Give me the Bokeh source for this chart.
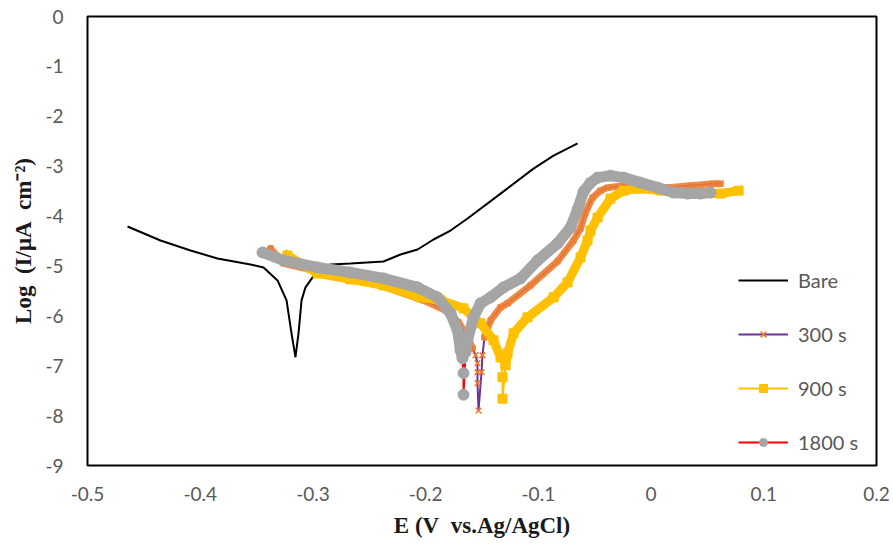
from bokeh.plotting import figure
from bokeh.models import Range1d, FixedTicker, Legend, LegendItem
from bokeh.embed import file_html
from bokeh.resources import INLINE

# ---------------- data ----------------
x_ticks = [-0.5, -0.4, -0.3, -0.2, -0.1, 0.0, 0.1, 0.2]
x_tick_labels = ["-0.5", "-0.4", "-0.3", "-0.2", "-0.1", "0", "0.1", "0.2"]
y_ticks = [0, -1, -2, -3, -4, -5, -6, -7, -8, -9]
y_tick_labels = ["0", "-1", "-2", "-3", "-4", "-5", "-6", "-7", "-8", "-9"]

bare_E = [-0.4645, -0.4352, -0.4086, -0.3847, -0.3554, -0.3438, -0.3314, -0.3234,
          -0.3190, -0.3155, -0.3128, -0.3101, -0.3066, -0.3003, -0.2933, -0.2844,
          -0.2666, -0.2374, -0.2223, -0.2072, -0.1930, -0.1779, -0.1628, -0.1335,
          -0.1043, -0.0865, -0.0652]
bare_L = [-4.21, -4.49, -4.69, -4.85, -4.97, -5.03, -5.29, -5.69,
          -6.35, -6.83, -6.35, -5.69, -5.43, -5.23, -5.05, -4.97,
          -4.95, -4.91, -4.77, -4.67, -4.47, -4.29, -4.05, -3.55,
          -3.05, -2.79, -2.545]

s300_E = [-0.3376, -0.3261, -0.2959, -0.2667, -0.2374, -0.2019, -0.1824, -0.1708,
          -0.1637, -0.1584,
          -0.1557, -0.1540, -0.1540, -0.1540, -0.1531, -0.1504, -0.1496,
          -0.1478, -0.1424, -0.1336, -0.1273, -0.1070, -0.0830, -0.0688, -0.0626,
          -0.0582, -0.0519, -0.0448, -0.0386, -0.0244, -0.0094, 0.0146, 0.0350,
          0.0554, 0.0616]
s300_L = [-4.65, -4.95, -5.11, -5.25, -5.41, -5.69, -5.89, -6.13,
          -6.39, -6.65,
          -6.79, -6.95, -7.13, -7.35, -7.90, -7.13, -6.79,
          -6.43, -6.09, -5.83, -5.75, -5.39, -4.91, -4.49, -4.25,
          -3.93, -3.63, -3.49, -3.43, -3.39, -3.43, -3.43, -3.39,
          -3.35, -3.35]
s300_tip = (10, 17)

s900_E = [-0.3226, -0.2959, -0.2667, -0.2374, -0.2046, -0.1868, -0.1664, -0.1513,
          -0.1398, -0.1336,
          -0.1318, -0.1318,
          -0.1291, -0.1273, -0.1220, -0.1096, -0.0865, -0.0741, -0.0626, -0.0564,
          -0.0537, -0.0475, -0.0360, -0.0244, -0.0094, 0.0084, 0.0261, 0.0439,
          0.0616, 0.0776]
s900_L = [-4.79, -5.15, -5.27, -5.39, -5.63, -5.69, -5.85, -6.15,
          -6.49, -6.83,
          -7.23, -7.66,
          -6.99, -6.75, -6.35, -6.03, -5.63, -5.33, -4.83, -4.49,
          -4.29, -4.03, -3.65, -3.49, -3.45, -3.49, -3.53, -3.55,
          -3.55, -3.49]
s900_tip = (10, 12)

s1800_E = [-0.3447, -0.3261, -0.2959, -0.2667, -0.2374, -0.2072, -0.1895, -0.1779,
           -0.1717, -0.1691, -0.1673,
           -0.1664, -0.1664,
           -0.1646, -0.1629, -0.1575, -0.1513, -0.1424, -0.1309, -0.1158, -0.1007,
           -0.0830, -0.0715, -0.0652, -0.0599, -0.0537, -0.0475, -0.0360, -0.0244,
           -0.0094, 0.0057, 0.0199, 0.0323, 0.0439, 0.0527]
s1800_L = [-4.73, -4.89, -5.03, -5.13, -5.25, -5.43, -5.63, -5.95,
           -6.29, -6.69, -6.85,
           -7.15, -7.58,
           -6.73, -6.49, -6.03, -5.75, -5.63, -5.43, -5.25, -4.89,
           -4.55, -4.23, -3.87, -3.51, -3.33, -3.23, -3.19, -3.23,
           -3.33, -3.43, -3.53, -3.55, -3.55, -3.53]
s1800_tip = (11, 13)

# ---------------- figure ----------------
p = figure(width=892, height=544, x_range=Range1d(-0.5, 0.2), y_range=Range1d(-9, 0),
           output_backend="svg", toolbar_location=None,
           min_border_left=87, min_border_right=16, min_border_top=16, min_border_bottom=79)
p.outline_line_color = "black"
p.outline_line_width = 2
p.xgrid.visible = False
p.ygrid.visible = False
p.background_fill_color = "white"
p.border_fill_color = "white"

for ax in (p.xaxis[0], p.yaxis[0]):
    ax.axis_line_color = None
    ax.major_tick_line_color = None
    ax.minor_tick_line_color = None
    ax.major_tick_out = 0
    ax.major_tick_in = 0
    ax.major_label_text_color = "#595959"
    ax.major_label_text_font = "Lato"
    ax.major_label_text_font_size = "19px"
    ax.axis_label_text_font = "Liberation Serif"
    ax.axis_label_text_font_style = "bold"
    ax.axis_label_text_font_size = "23px"
    ax.axis_label_text_color = "#1a1a1a"

p.xaxis.ticker = FixedTicker(ticks=x_ticks)
p.xaxis.major_label_overrides = {t: s for t, s in zip(x_ticks, x_tick_labels)}
p.yaxis.ticker = FixedTicker(ticks=y_ticks)
p.yaxis.major_label_overrides = {t: s for t, s in zip(y_ticks, y_tick_labels)}
p.xaxis.major_label_standoff = 21
p.yaxis.major_label_standoff = 24
p.xaxis.axis_label = "E (V\u00a0 vs.Ag/AgCl)"
p.yaxis.axis_label = "Log\u00a0\u00a0(I/\u03bcA\u00a0\u00a0cm\u207b\u00b2)"
p.xaxis.axis_label_standoff = 9
p.yaxis.axis_label_standoff = 6

# Bare
r_bare = p.line(bare_E, bare_L, line_color="black", line_width=2)


def band_segments(E, L, tip):
    a, b = tip
    return [E[:a], E[b:]], [L[:a], L[b:]]


# 300 s
l300 = p.line(s300_E, s300_L, line_color="#7030A0", line_width=2)
bx, by = band_segments(s300_E, s300_L, s300_tip)
p.multi_line(bx, by, line_color="#ED7D31", line_width=7, line_alpha=0.9,
             line_join="round", line_cap="round")
m300 = p.scatter(s300_E, s300_L, marker="x", size=8, line_color="#ED7D31", line_width=1.6)

# 900 s
l900 = p.line(s900_E, s900_L, line_color="#FFC000", line_width=2)
bx, by = band_segments(s900_E, s900_L, s900_tip)
p.multi_line(bx, by, line_color="#FFC000", line_width=9, line_join="round", line_cap="square")
m900 = p.scatter(s900_E, s900_L, marker="square", size=9, fill_color="#FFC000", line_color="#FFC000")

# 1800 s
l1800 = p.line(s1800_E, s1800_L, line_color="#FF0000", line_width=2)
bx, by = band_segments(s1800_E, s1800_L, s1800_tip)
p.multi_line(bx, by, line_color="#A5A5A5", line_width=11, line_join="round", line_cap="round")
m1800 = p.scatter(s1800_E, s1800_L, marker="circle", size=11, fill_color="#A5A5A5", line_color="#A5A5A5")

legend = Legend(items=[
    LegendItem(label="Bare", renderers=[r_bare]),
    LegendItem(label="300 s", renderers=[l300, m300]),
    LegendItem(label="900 s", renderers=[l900, m900]),
    LegendItem(label="1800 s", renderers=[l1800, m1800]),
], location=(651, 11))
legend.glyph_width = 50
legend.glyph_height = 20
legend.label_height = 20
legend.label_standoff = 10
legend.padding = 0
legend.margin = 0
legend.spacing = 30
legend.border_line_color = None
legend.background_fill_alpha = 0
legend.label_text_font = "Lato"
legend.label_text_font_size = "20px"
legend.label_text_color = "#595959"
p.add_layout(legend)

open("out.html", "w").write(file_html(p, INLINE))
